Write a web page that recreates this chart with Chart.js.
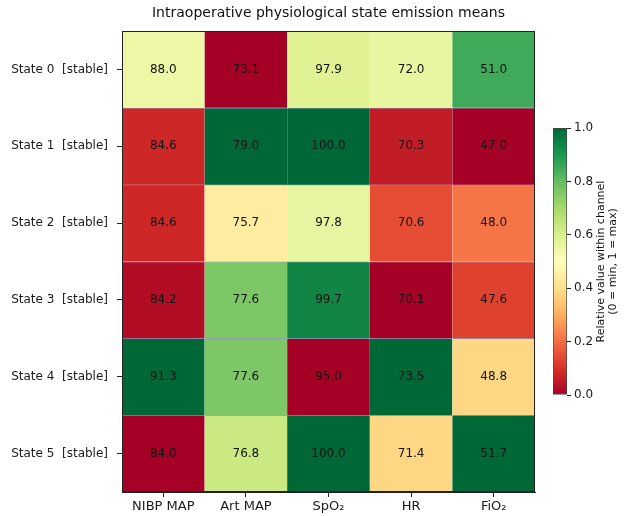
<!DOCTYPE html>
<html>
<head>
<meta charset="utf-8">
<script src="https://cdn.jsdelivr.net/npm/chart.js@4.4.1/dist/chart.umd.min.js"></script>
<style>
  body { margin: 0; background: #fff; }
  #wrap { position: relative; width: 625px; height: 516px; }
  #main { position: absolute; left: 0; top: 0; }
  #bar { position: absolute; left: 540px; top: 110px; }
</style>
</head>
<body>
<div id="wrap">
  <canvas id="main" width="625" height="516"></canvas>
  <canvas id="bar" width="85" height="300"></canvas>
</div>
<script>
// datos
const states = ['State 0  [stable]', 'State 1  [stable]', 'State 2  [stable]',
                'State 3  [stable]', 'State 4  [stable]', 'State 5  [stable]'];
const channels = ['NIBP MAP', 'Art MAP', 'SpO₂', 'HR', 'FiO₂'];
const nibpMap = [88.0, 84.6, 84.6, 84.2, 91.3, 84.0];
const artMap  = [73.1, 79.0, 75.7, 77.6, 77.6, 76.8];
const spo2    = [97.9, 100.0, 97.8, 99.7, 95.0, 100.0];
const hr      = [72.0, 70.3, 70.6, 70.1, 73.5, 71.4];
const fio2    = [51.0, 47.0, 48.0, 47.6, 48.8, 51.7];
const colorbarTicks = [0, 0.2, 0.4, 0.6, 0.8, 1.0];

const columns = [nibpMap, artMap, spo2, hr, fio2];

// RdYlGn
const rdylgn = ['#a50026', '#d73027', '#f46d43', '#fdae61', '#fee08b', '#ffffbf',
                '#d9ef8b', '#a6d96a', '#66bd63', '#1a9850', '#006837'];

function hexToRgb(h) {
    return [parseInt(h.slice(1, 3), 16), parseInt(h.slice(3, 5), 16), parseInt(h.slice(5, 7), 16)];
}

function cmap(t) {
    t = Math.max(0, Math.min(1, t));
    const pos = t * (rdylgn.length - 1);
    const i = Math.min(Math.floor(pos), rdylgn.length - 2);
    const f = pos - i;
    const a = hexToRgb(rdylgn[i]);
    const b = hexToRgb(rdylgn[i + 1]);
    const c = a.map((v, k) => Math.round(v + (b[k] - v) * f));
    return 'rgb(' + c.join(',') + ')';
}

// normaliza cada canal entre su min y max
function norm(col, v) {
    const mn = Math.min(...col);
    const mx = Math.max(...col);
    return (v - mn) / (mx - mn);
}

Chart.defaults.font.family = "'DejaVu Sans', sans-serif";
Chart.defaults.font.size = 12;
Chart.defaults.color = '#1a1a1a';

const datasets = states.map((s, r) => ({
    label: s,
    data: columns.map(() => [r, r + 1]),
    backgroundColor: columns.map(col => cmap(norm(col, col[r]))),
    borderColor: 'rgba(105, 115, 155, 0.75)',
    borderWidth: { top: 1, right: 0, bottom: 0, left: 0 },
    borderSkipped: false,
    grouped: false,
    barPercentage: 1,
    categoryPercentage: 1
}));

// texto de celdas, título y marco
const cellText = {
    id: 'cellText',
    afterDatasetsDraw(chart) {
        const ctx = chart.ctx;
        const area = chart.chartArea;
        ctx.save();
        ctx.font = "12px 'DejaVu Sans'";
        ctx.fillStyle = '#111';
        ctx.textAlign = 'center';
        ctx.textBaseline = 'middle';
        chart.data.datasets.forEach((ds, r) => {
            chart.getDatasetMeta(r).data.forEach((el, c) => {
                const y = (el.y + el.base) / 2;
                ctx.fillText(columns[c][r].toFixed(1), el.x, y);
            });
        });
        ctx.strokeStyle = '#222';
        ctx.lineWidth = 1;
        ctx.strokeRect(area.left + 0.5, area.top + 0.5, area.right - area.left - 1, area.bottom - area.top - 1);
        ctx.font = "14px 'DejaVu Sans'";
        ctx.fillStyle = '#111';
        ctx.textBaseline = 'middle';
        ctx.fillText('Intraoperative physiological state emission means', (area.left + area.right) / 2, 13);
        ctx.restore();
    }
};

new Chart(document.getElementById('main'), {
    type: 'bar',
    data: { labels: channels, datasets: datasets },
    options: {
        responsive: false,
        animation: false,
        layout: { padding: { top: 31, right: 90, bottom: 0, left: 0 } },
        plugins: { legend: { display: false }, tooltip: { enabled: false } },
        scales: {
            x: {
                afterFit: s => { s.height = 24; },
                grid: { offset: false, drawOnChartArea: false, tickLength: 5, color: '#222' },
                border: { color: '#222' },
                ticks: { padding: 2, font: { size: 13 } }
            },
            y: {
                type: 'linear',
                min: 0,
                max: 6,
                reverse: true,
                afterFit: s => { s.width = 122; },
                afterBuildTicks: s => { s.ticks = states.map((st, i) => ({ value: i + 0.5 })); },
                grid: { drawOnChartArea: false, tickLength: 5, color: '#222' },
                border: { color: '#222' },
                ticks: { padding: 9, font: { size: 12 }, callback: (v, i) => states[i] }
            }
        }
    },
    plugins: [cellText]
});

// barra de color
const barLabel = {
    id: 'barLabel',
    afterDraw(chart) {
        const ctx = chart.ctx;
        const area = chart.chartArea;
        const cy = (area.top + area.bottom) / 2;
        ctx.save();
        ctx.font = "11px 'DejaVu Sans'";
        ctx.fillStyle = '#111';
        ctx.textAlign = 'center';
        ctx.textBaseline = 'middle';
        ctx.translate(61, cy);
        ctx.rotate(-Math.PI / 2);
        ctx.fillText('Relative value within channel', 0, 0);
        ctx.fillText('(0 = min, 1 = max)', 0, 12);
        ctx.restore();
    }
};

new Chart(document.getElementById('bar'), {
    type: 'bar',
    data: {
        labels: [''],
        datasets: [{
            data: [[0, 1]],
            backgroundColor: function (context) {
                const area = context.chart.chartArea;
                if (!area) return null;
                const g = context.chart.ctx.createLinearGradient(0, area.bottom, 0, area.top);
                rdylgn.forEach((c, i) => g.addColorStop(i / (rdylgn.length - 1), c));
                return g;
            },
            borderColor: '#444',
            borderWidth: 1,
            borderSkipped: false,
            barPercentage: 1,
            categoryPercentage: 1
        }]
    },
    options: {
        responsive: false,
        animation: false,
        layout: { padding: { top: 18, left: 13, bottom: 15, right: 0 } },
        plugins: { legend: { display: false }, tooltip: { enabled: false } },
        scales: {
            x: { display: false },
            y: {
                position: 'right',
                min: 0,
                max: 1,
                afterFit: s => { s.width = 58; },
                afterBuildTicks: s => { s.ticks = colorbarTicks.map(v => ({ value: v })); },
                grid: { drawOnChartArea: false, tickLength: 4, color: '#222' },
                border: { display: false },
                ticks: { padding: 3, font: { size: 12 }, callback: v => v.toFixed(1) }
            }
        }
    },
    plugins: [barLabel]
});
</script>
</body>
</html>
